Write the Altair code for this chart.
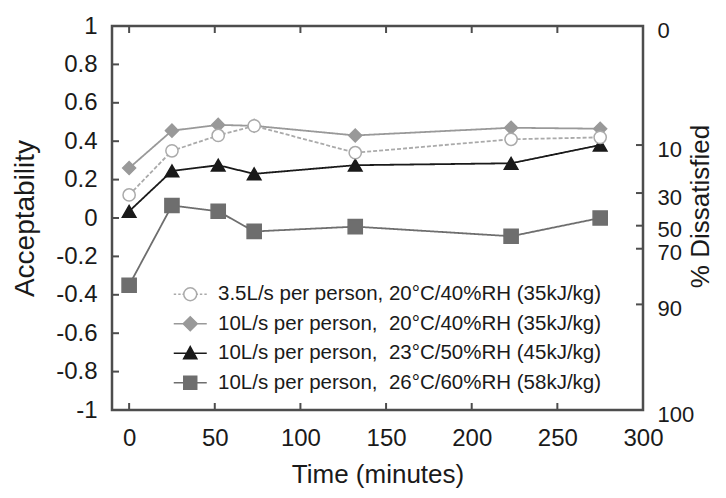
import altair as alt
import pandas as pd

# ---- data ----
time_min = [0, 25, 52, 73, 132, 223, 275]
acc_35_20 = [0.12, 0.35, 0.43, 0.48, 0.34, 0.41, 0.42]      # 3.5 L/s, 20C/40%RH (open circle)
acc_10_20 = [0.26, 0.455, 0.485, 0.48, 0.43, 0.47, 0.465]   # 10 L/s, 20C/40%RH (diamond)
acc_10_23 = [0.035, 0.245, 0.275, 0.23, 0.275, 0.285, 0.38] # 10 L/s, 23C/50%RH (triangle)
acc_10_26 = [-0.35, 0.065, 0.035, -0.07, -0.045, -0.095, 0.0]  # 10 L/s, 26C/60%RH (square)

series_labels = [
    "3.5L/s per person, 20°C/40%RH (35kJ/kg)",
    "10L/s per person,\u00a0 20°C/40%RH (35kJ/kg)",
    "10L/s per person,\u00a0 23°C/50%RH (45kJ/kg)",
    "10L/s per person,\u00a0 26°C/60%RH (58kJ/kg)",
]
x_ticks = [0, 50, 100, 150, 200, 250, 300]
y_ticks = [1, 0.8, 0.6, 0.4, 0.2, 0, -0.2, -0.4, -0.6, -0.8, -1]
pd_labels = ["0", "10", "30", "50", "70", "90", "100"]
pd_pos = [1, 0.38, 0.13, -0.04, -0.16, -0.45, -1]

# ---- styling ----
FONT = "Liberation Sans"
W, H = 531, 384
line_colors = ["#aaaaaa", "#999999", "#1a1a1a", "#6e6e6e"]
fill_colors = ["#ffffff", "#999999", "#1a1a1a", "#6e6e6e"]
shapes = ["circle", "diamond", "triangle-up", "square"]
sizes = [150, 200, 170, 170]
dashes = [[4, 2], [1, 0], [1, 0], [1, 0]]
legend_paths = [
    "M-2.75,0H-2.35M-2.0,0H-1.6M-1.3,0H-1.08M1.08,0H1.3M1.6,0H2.0M2.35,0H2.75"
    "M1.08,0A1.08,1.08,0,1,1,-1.08,0A1.08,1.08,0,1,1,1.08,0Z",
    "M-2.75,0H2.75M0,-1.17L1.17,0L0,1.17L-1.17,0Z",
    "M-2.75,0H2.75M0,-1.1L1.1,0.9L-1.1,0.9Z",
    "M-2.75,0H2.75M-1.08,-1.08H1.08V1.08H-1.08Z",
]

all_series = [acc_35_20, acc_10_20, acc_10_23, acc_10_26]
rows = []
for lab, vals in zip(series_labels, all_series):
    for t, v in zip(time_min, vals):
        rows.append({"time": t, "acc": v, "series": lab})
df = pd.DataFrame(rows)
# draw circles last (on top)
order_draw = [series_labels[3], series_labels[2], series_labels[1], series_labels[0]]
df["k"] = df["series"].map({s: i for i, s in enumerate(order_draw)})
df = df.sort_values(["k", "time"], kind="stable").reset_index(drop=True)

xscale = alt.Scale(domain=[-10, 300], nice=False, zero=False)
yscale = alt.Scale(domain=[-1, 1], nice=False, zero=False)

x_axis = alt.Axis(values=x_ticks, title="Time (minutes)", ticks=False, domain=False,
                  grid=False, labelFlush=False, labelOverlap=False,
                  labelFontSize=24, titleFontSize=26, labelPadding=16, titlePadding=11,
                  titleFontWeight="normal")
y_axis = alt.Axis(values=y_ticks, labelExpr="'' + datum.value", title="Acceptability",
                  ticks=False, domain=False, grid=False, labelOverlap=False,
                  labelFontSize=24, titleFontSize=28, labelPadding=15, titlePadding=16,
                  titleFontWeight="normal")
label_expr = " : ".join(
    f"datum.value == {p} ? '{l}'" for p, l in zip(pd_pos, pd_labels)) + " : ''"
r_axis = alt.Axis(orient="right", values=pd_pos, labelExpr=label_expr,
                  title="% Dissatisfied", titleAngle=270, titleY=180, ticks=False,
                  domain=False, grid=False, labelOverlap=False, labelFontSize=22,
                  titleFontSize=26, labelPadding=14, titlePadding=20, labelOffset=4,
                  titleFontWeight="normal")

tick_color = "#4d4d4d"
xt = pd.DataFrame({"t": x_ticks})
yt = pd.DataFrame({"v": y_ticks})

# bottom ticks carry the x axis, left ticks carry the y axis
x_ticks_bottom = alt.Chart(xt).mark_rule(color=tick_color, strokeWidth=2).encode(
    x=alt.X("t:Q", scale=xscale, axis=x_axis), y=alt.value(H), y2=alt.value(H - 7))
x_ticks_top = alt.Chart(xt).mark_rule(color=tick_color, strokeWidth=2).encode(
    x=alt.X("t:Q", scale=xscale, axis=None), y=alt.value(0), y2=alt.value(7))
y_ticks_left = alt.Chart(yt).mark_rule(color=tick_color, strokeWidth=2).encode(
    y=alt.Y("v:Q", scale=yscale, axis=y_axis), x=alt.value(0), x2=alt.value(7))
y_ticks_right = alt.Chart(pd.DataFrame({"p": pd_pos})).mark_rule(
    color=tick_color, strokeWidth=2).encode(
    y=alt.Y("p:Q", scale=yscale, axis=r_axis), x=alt.value(W), x2=alt.value(W - 7))

lines = alt.Chart(df).mark_line(strokeWidth=1.8).encode(
    x=alt.X("time:Q", scale=xscale, axis=None),
    y=alt.Y("acc:Q", scale=yscale, axis=None),
    detail="series:N",
    color=alt.Color("series:N", scale=alt.Scale(domain=series_labels, range=line_colors), legend=None),
    strokeDash=alt.StrokeDash("series:N", scale=alt.Scale(domain=series_labels, range=dashes), legend=None),
    order="k:Q",
)

points = alt.Chart(df).mark_point(filled=True, opacity=1, strokeWidth=1.5).encode(
    x=alt.X("time:Q", scale=xscale, axis=None),
    y=alt.Y("acc:Q", scale=yscale, axis=None),
    shape=alt.Shape("series:N", scale=alt.Scale(domain=series_labels, range=shapes), legend=None),
    fill=alt.Fill("series:N", scale=alt.Scale(domain=series_labels, range=fill_colors), legend=None),
    stroke=alt.Stroke("series:N", scale=alt.Scale(domain=series_labels, range=line_colors), legend=None),
    size=alt.Size("series:N", scale=alt.Scale(domain=series_labels, range=sizes), legend=None),
)

legend_layer = alt.Chart(df).transform_filter("false").mark_point(
    filled=True, opacity=1, strokeWidth=1.5).encode(
    shape=alt.Shape("series:N", scale=alt.Scale(domain=series_labels, range=legend_paths),
                    legend=alt.Legend(title=None, orient="none", legendX=68, legendY=258)),
    fill=alt.Fill("series:N", scale=alt.Scale(domain=series_labels, range=fill_colors)),
    stroke=alt.Stroke("series:N", scale=alt.Scale(domain=series_labels, range=line_colors)),
)

chart = alt.layer(
    lines, points, x_ticks_bottom, x_ticks_top, y_ticks_left, y_ticks_right, legend_layer
).resolve_scale(
    x="independent", y="independent", shape="independent", fill="independent",
    stroke="independent"
).properties(
    width=W, height=H,
    autosize=alt.AutoSizeParams(type="none"),
    padding={"left": 104, "top": 18, "right": 75, "bottom": 80},
).configure_view(
    stroke=tick_color, strokeWidth=2.5
).configure_axis(
    labelFont=FONT, titleFont=FONT, labelColor="#1a1a1a", titleColor="#1a1a1a"
).configure_legend(
    labelFont=FONT, labelFontSize=20.5, labelColor="#1a1a1a", labelLimit=600,
    symbolSize=144, symbolStrokeWidth=1.5, rowPadding=8.5, labelOffset=17.5,
    symbolOffset=0, padding=0,
)

chart.save("out.html", embed_options={"renderer": "svg", "actions": False})
